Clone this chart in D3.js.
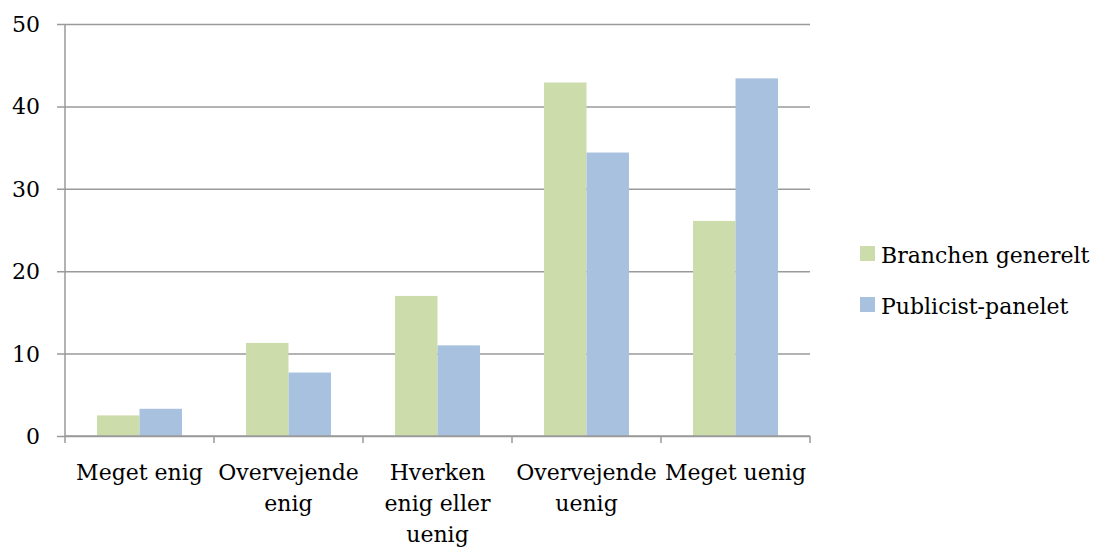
<!DOCTYPE html>
<html>
<head>
<meta charset="utf-8">
<script src="https://cdn.jsdelivr.net/npm/d3@7"></script>
<style>
body{margin:0;background:#fff}
text{font-family:"DejaVu Serif",serif;fill:#000}
</style>
</head>
<body>
<script>
// categories (x axis), \n marks line breaks in the label
var categories=["Meget enig","Overvejende\nenig","Hverken\nenig eller\nuenig","Overvejende\nuenig","Meget uenig"]
var seriesNames=["Branchen generelt","Publicist-panelet"]
var branchen=[2.5,11.3,17.0,42.9,26.1]
var publicist=[3.3,7.7,11.0,34.4,43.4]
var yTicks=[0,10,20,30,40,50]
var colors=["#cddcab","#a7c1df"]

var width=1094,height=549
var plot={left:65,right:810,top:24,bottom:436}

const svg=d3.select("body").append("svg")
	.attr("width",width)
	.attr("height",height)

var x0=d3.scaleBand().domain(categories).range([plot.left,plot.right]).paddingInner(0.43).paddingOuter(0.215)
var x1=d3.scaleBand().domain([0,1]).range([0,x0.bandwidth()])
var y=d3.scaleLinear().domain([0,50]).range([plot.bottom,plot.top])

// gridlines + left ticks
svg.append("g")
	.attr("transform","translate("+plot.left+",0)")
	.call(d3.axisLeft(y).tickValues(yTicks).tickSize(-(plot.right-plot.left)).tickSizeOuter(0).tickFormat(""))
	.call(g=>g.select(".domain").remove())
	.call(g=>g.selectAll("line").attr("stroke","#9a9a9a").attr("stroke-width",1.5).attr("x1",-8))

// y labels
svg.append("g").selectAll("text").data(yTicks).join("text")
	.attr("x",40)
	.attr("y",d=>y(d))
	.attr("dy","0.36em")
	.attr("text-anchor","end")
	.style("font-size","22px")
	.text(d=>d)

// bars
var rows=categories.map((c,i)=>({cat:c,vals:[branchen[i],publicist[i]]}))
var groups=svg.append("g").selectAll("g").data(rows).join("g")
	.attr("transform",d=>"translate("+x0(d.cat)+",0)")
groups.selectAll("rect").data(d=>d.vals).join("rect")
	.attr("x",(d,i)=>x1(i))
	.attr("width",x1.bandwidth())
	.attr("y",d=>y(d))
	.attr("height",d=>y(0)-y(d))
	.attr("fill",(d,i)=>colors[i])

// y axis line + x axis line
svg.append("line").attr("x1",plot.left).attr("x2",plot.left).attr("y1",plot.top).attr("y2",plot.bottom)
	.attr("stroke","#9a9a9a").attr("stroke-width",1.5)
svg.append("line").attr("x1",plot.left).attr("x2",plot.right).attr("y1",plot.bottom).attr("y2",plot.bottom)
	.attr("stroke","#9a9a9a").attr("stroke-width",1.5)

// x ticks at band boundaries
var step=x0.step()
var bounds=d3.range(categories.length+1).map(i=>plot.left+i*step)
svg.append("g").selectAll("line").data(bounds).join("line")
	.attr("x1",d=>d).attr("x2",d=>d)
	.attr("y1",plot.bottom).attr("y2",plot.bottom+7)
	.attr("stroke","#9a9a9a").attr("stroke-width",1.5)

// x labels
var xl=svg.append("g").selectAll("text").data(categories).join("text")
	.attr("text-anchor","middle")
	.attr("transform",d=>"translate("+(x0(d)+x0.bandwidth()/2)+",480)")
	.style("font-size","22px")
xl.selectAll("tspan").data(d=>d.split("\n")).join("tspan")
	.attr("x",0)
	.attr("y",(d,i)=>i*31)
	.text(d=>d)

// legend
var leg=svg.append("g").selectAll("g").data(seriesNames).join("g")
	.attr("transform",(d,i)=>"translate(860,"+(246+i*51)+")")
leg.append("rect").attr("width",15).attr("height",15).attr("fill",(d,i)=>colors[i])
leg.append("text").attr("x",21).attr("y",16.5).style("font-size","22px").text(d=>d)
</script>
</body>
</html>
